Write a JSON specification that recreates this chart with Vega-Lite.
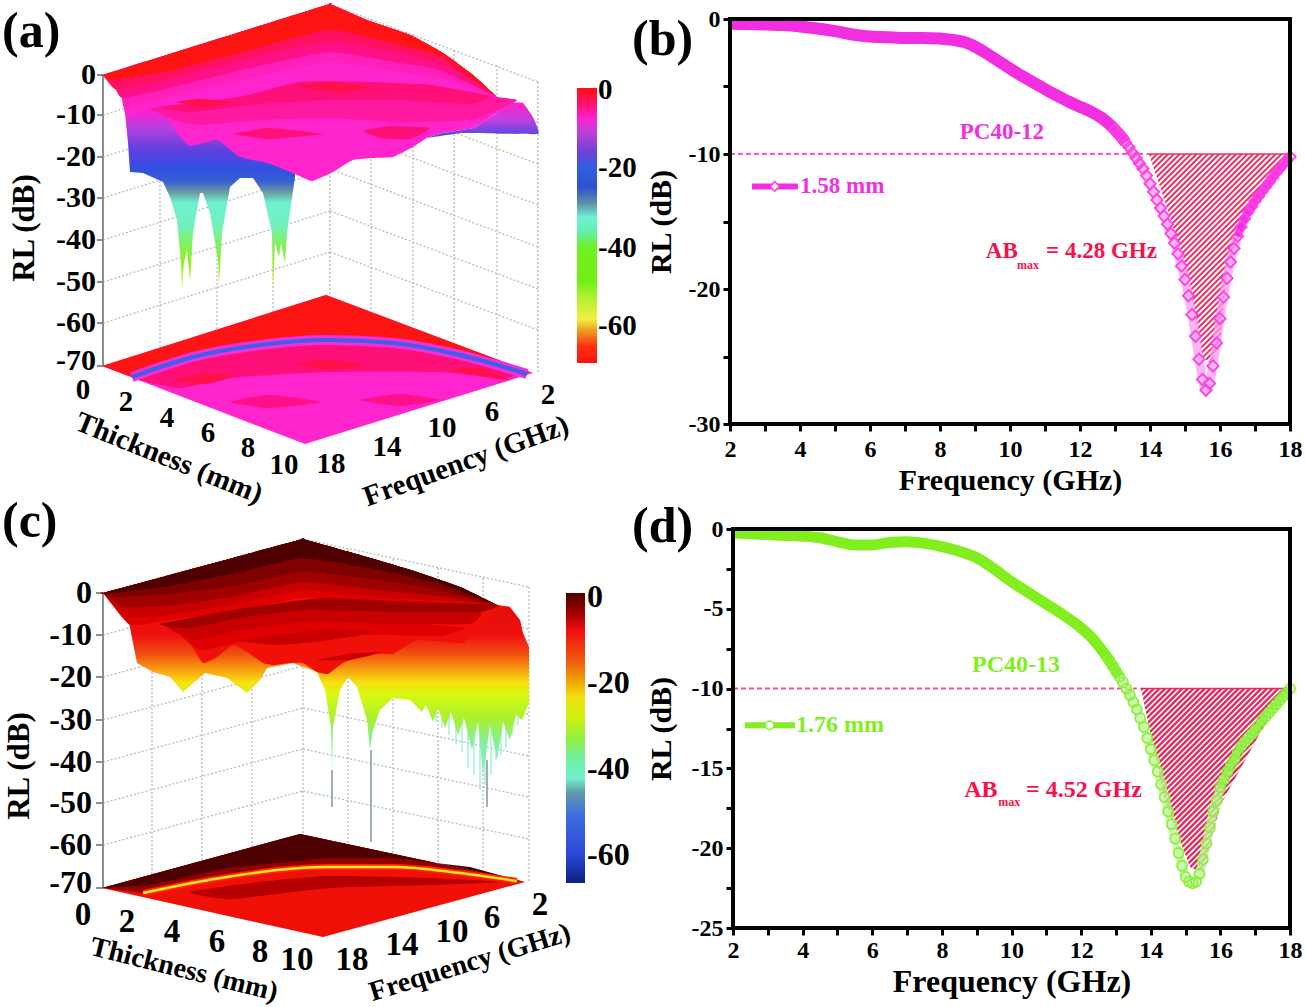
{"$schema":"https://vega.github.io/schema/vega-lite/v6.json","width":1305,"height":1007,"autosize":"none","padding":0,"background":"white",
"config":{"view":{"stroke":null},"text":{"font":"Liberation Serif","fontWeight":"bold"},"axis":{"grid":false,"domain":false,"labelFont":"Liberation Serif","labelFontWeight":"bold","labelFontSize":24,"labelColor":"black","labelOverlap":false,"labelFlush":false,"tickColor":"black","tickWidth":3,"tickSize":7,"labelPadding":3,"titleFont":"Liberation Serif","titleFontWeight":"bold","titleFontSize":30,"titleColor":"black"}},
"resolve":{"scale":{"x":"independent","y":"independent","fill":"independent"},"axis":{"x":"independent","y":"independent"}},
"datasets":{
"grid":[
{"u":103,"v":75,"u2":330,"v2":4},{"u":103,"v":115,"u2":330,"v2":44},{"u":103,"v":157,"u2":330,"v2":86},{"u":103,"v":198,"u2":330,"v2":127},{"u":103,"v":240,"u2":330,"v2":169},{"u":103,"v":282,"u2":330,"v2":211},{"u":103,"v":323,"u2":330,"v2":252},
{"u":330,"v":4,"u2":538,"v2":82},{"u":330,"v":44,"u2":538,"v2":122},{"u":330,"v":86,"u2":538,"v2":164},{"u":330,"v":127,"u2":538,"v2":205},{"u":330,"v":169,"u2":538,"v2":247},{"u":330,"v":211,"u2":538,"v2":289},{"u":330,"v":252,"u2":538,"v2":330},
{"u":160,"v":57,"u2":160,"v2":348},{"u":217,"v":39,"u2":217,"v2":330},{"u":273,"v":22,"u2":273,"v2":313},{"u":330,"v":4,"u2":330,"v2":295},{"u":371,"v":19,"u2":371,"v2":310},{"u":413,"v":34,"u2":413,"v2":325},{"u":454,"v":50,"u2":454,"v2":341},{"u":497,"v":65,"u2":497,"v2":356},{"u":538,"v":82,"u2":538,"v2":373},
{"u":103,"v":593,"u2":303,"v2":539},{"u":103,"v":635,"u2":303,"v2":581},{"u":103,"v":677,"u2":303,"v2":623},{"u":103,"v":720,"u2":303,"v2":666},{"u":103,"v":762,"u2":303,"v2":708},{"u":103,"v":803,"u2":303,"v2":749},{"u":103,"v":845,"u2":303,"v2":791},
{"u":303,"v":539,"u2":529,"v2":587},{"u":303,"v":581,"u2":529,"v2":629},{"u":303,"v":623,"u2":529,"v2":671},{"u":303,"v":666,"u2":529,"v2":714},{"u":303,"v":708,"u2":529,"v2":756},{"u":303,"v":749,"u2":529,"v2":797},{"u":303,"v":791,"u2":529,"v2":839},
{"u":152,"v":580,"u2":152,"v2":875},{"u":202,"v":566,"u2":202,"v2":861},{"u":252,"v":553,"u2":252,"v2":848},{"u":303,"v":539,"u2":303,"v2":834},{"u":348,"v":549,"u2":348,"v2":844},{"u":393,"v":559,"u2":393,"v2":854},{"u":438,"v":568,"u2":438,"v2":863},{"u":483,"v":578,"u2":483,"v2":873},{"u":529,"v":587,"u2":529,"v2":882}],
"axis3d":[{"u":103,"v":75,"u2":103,"v2":366},{"u":97,"v":75,"u2":103,"v2":75},{"u":97,"v":115,"u2":103,"v2":115},{"u":97,"v":157,"u2":103,"v2":157},{"u":97,"v":198,"u2":103,"v2":198},{"u":97,"v":240,"u2":103,"v2":240},{"u":97,"v":282,"u2":103,"v2":282},{"u":97,"v":323,"u2":103,"v2":323},{"u":97,"v":366,"u2":103,"v2":366},
{"u":103,"v":593,"u2":103,"v2":888},{"u":96,"v":593,"u2":103,"v2":593},{"u":96,"v":635,"u2":103,"v2":635},{"u":96,"v":677,"u2":103,"v2":677},{"u":96,"v":720,"u2":103,"v2":720},{"u":96,"v":762,"u2":103,"v2":762},{"u":96,"v":803,"u2":103,"v2":803},{"u":96,"v":845,"u2":103,"v2":845},{"u":96,"v":888,"u2":103,"v2":888}],
"a_curtain":[{"u":113,"v":83},{"u":122,"v":97},{"u":125,"v":113},{"u":128,"v":143},{"u":130,"v":172},{"u":143,"v":173},{"u":163,"v":182},{"u":170,"v":197},{"u":177,"v":220},{"u":181,"v":263},{"u":182,"v":290},{"u":184,"v":262},{"u":187,"v":250},{"u":190,"v":282},{"u":193,"v":233},{"u":200,"v":193},{"u":203,"v":193},{"u":210,"v":213},{"u":218,"v":260},{"u":219,"v":287},{"u":222,"v":233},{"u":230,"v":187},{"u":240,"v":178},{"u":253,"v":178},{"u":263,"v":193},{"u":272,"v":233},{"u":273,"v":293},{"u":275,"v":243},{"u":279,"v":257},{"u":281,"v":243},{"u":285,"v":263},{"u":287,"v":233},{"u":295,"v":177},{"u":295,"v":150}],
"a_right":[{"u":427,"v":138},{"u":463,"v":133},{"u":538,"v":134},{"u":533,"v":117},{"u":523,"v":103},{"u":510,"v":103},{"u":497,"v":113},{"u":473,"v":128},{"u":443,"v":133}],
"a_surface":[
{"poly":"s","rl":-9,"u":103,"v":75},{"poly":"s","rl":-9,"u":103,"v":75},{"poly":"s","rl":-9,"u":170,"v":54},{"poly":"s","rl":-9,"u":250,"v":29},{"poly":"s","rl":-9,"u":330,"v":4},{"poly":"s","rl":-9,"u":330,"v":4},{"poly":"s","rl":-9,"u":367,"v":20},{"poly":"s","rl":-9,"u":410,"v":35},{"poly":"s","rl":-9,"u":443,"v":53},{"poly":"s","rl":-9,"u":473,"v":75},{"poly":"s","rl":-9,"u":497,"v":97},{"poly":"s","rl":-9,"u":517,"v":100},{"poly":"s","rl":-9,"u":497,"v":113},{"poly":"s","rl":-9,"u":473,"v":128},{"poly":"s","rl":-9,"u":443,"v":133},{"poly":"s","rl":-9,"u":427,"v":138},{"poly":"s","rl":-9,"u":413,"v":147},{"poly":"s","rl":-9,"u":393,"v":157},{"poly":"s","rl":-9,"u":373,"v":158},{"poly":"s","rl":-9,"u":353,"v":160},{"poly":"s","rl":-9,"u":333,"v":172},{"poly":"s","rl":-9,"u":312,"v":181},{"poly":"s","rl":-9,"u":293,"v":173},{"poly":"s","rl":-9,"u":267,"v":163},{"poly":"s","rl":-9,"u":240,"v":157},{"poly":"s","rl":-9,"u":217,"v":140},{"poly":"s","rl":-9,"u":190,"v":146},{"poly":"s","rl":-9,"u":177,"v":133},{"poly":"s","rl":-9,"u":167,"v":117},{"poly":"s","rl":-9,"u":150,"v":108},{"poly":"s","rl":-9,"u":143,"v":110},{"poly":"s","rl":-9,"u":127,"v":117},{"poly":"s","rl":-9,"u":125,"v":113},{"poly":"s","rl":-9,"u":122,"v":97},{"poly":"s","rl":-9,"u":113,"v":83},
{"poly":"c1","rl":-7,"u":103,"v":75},{"poly":"c1","rl":-7,"u":103,"v":75},{"poly":"c1","rl":-7,"u":170,"v":54},{"poly":"c1","rl":-7,"u":250,"v":29},{"poly":"c1","rl":-7,"u":330,"v":4},{"poly":"c1","rl":-7,"u":330,"v":4},{"poly":"c1","rl":-7,"u":367,"v":20},{"poly":"c1","rl":-7,"u":410,"v":35},{"poly":"c1","rl":-7,"u":443,"v":53},{"poly":"c1","rl":-7,"u":473,"v":75},{"poly":"c1","rl":-7,"u":497,"v":97},{"poly":"c1","rl":-7,"u":497,"v":97},{"poly":"c1","rl":-7,"u":440,"v":78},{"poly":"c1","rl":-7,"u":400,"v":72},{"poly":"c1","rl":-7,"u":330,"v":62},{"poly":"c1","rl":-7,"u":250,"v":78},{"poly":"c1","rl":-7,"u":170,"v":97},{"poly":"c1","rl":-7,"u":125,"v":108},{"poly":"c1","rl":-7,"u":122,"v":97},{"poly":"c1","rl":-7,"u":113,"v":83},
{"poly":"c2","rl":-5,"u":103,"v":75},{"poly":"c2","rl":-5,"u":103,"v":75},{"poly":"c2","rl":-5,"u":170,"v":54},{"poly":"c2","rl":-5,"u":250,"v":29},{"poly":"c2","rl":-5,"u":330,"v":4},{"poly":"c2","rl":-5,"u":330,"v":4},{"poly":"c2","rl":-5,"u":367,"v":20},{"poly":"c2","rl":-5,"u":410,"v":35},{"poly":"c2","rl":-5,"u":443,"v":53},{"poly":"c2","rl":-5,"u":473,"v":75},{"poly":"c2","rl":-5,"u":497,"v":97},{"poly":"c2","rl":-5,"u":497,"v":97},{"poly":"c2","rl":-5,"u":440,"v":70},{"poly":"c2","rl":-5,"u":400,"v":63},{"poly":"c2","rl":-5,"u":330,"v":52},{"poly":"c2","rl":-5,"u":250,"v":68},{"poly":"c2","rl":-5,"u":170,"v":88},{"poly":"c2","rl":-5,"u":122,"v":98},{"poly":"c2","rl":-5,"u":113,"v":83},
{"poly":"c3","rl":-3.5,"u":103,"v":75},{"poly":"c3","rl":-3.5,"u":103,"v":75},{"poly":"c3","rl":-3.5,"u":170,"v":54},{"poly":"c3","rl":-3.5,"u":250,"v":29},{"poly":"c3","rl":-3.5,"u":330,"v":4},{"poly":"c3","rl":-3.5,"u":330,"v":4},{"poly":"c3","rl":-3.5,"u":367,"v":20},{"poly":"c3","rl":-3.5,"u":410,"v":35},{"poly":"c3","rl":-3.5,"u":443,"v":53},{"poly":"c3","rl":-3.5,"u":473,"v":75},{"poly":"c3","rl":-3.5,"u":497,"v":97},{"poly":"c3","rl":-3.5,"u":497,"v":97},{"poly":"c3","rl":-3.5,"u":440,"v":63},{"poly":"c3","rl":-3.5,"u":400,"v":53},{"poly":"c3","rl":-3.5,"u":330,"v":42},{"poly":"c3","rl":-3.5,"u":250,"v":58},{"poly":"c3","rl":-3.5,"u":170,"v":79},{"poly":"c3","rl":-3.5,"u":117,"v":90},
{"poly":"c4","rl":-0.5,"u":103,"v":75},{"poly":"c4","rl":-0.5,"u":103,"v":75},{"poly":"c4","rl":-0.5,"u":170,"v":54},{"poly":"c4","rl":-0.5,"u":250,"v":29},{"poly":"c4","rl":-0.5,"u":330,"v":4},{"poly":"c4","rl":-0.5,"u":330,"v":4},{"poly":"c4","rl":-0.5,"u":367,"v":20},{"poly":"c4","rl":-0.5,"u":410,"v":35},{"poly":"c4","rl":-0.5,"u":443,"v":53},{"poly":"c4","rl":-0.5,"u":473,"v":75},{"poly":"c4","rl":-0.5,"u":497,"v":97},{"poly":"c4","rl":-0.5,"u":497,"v":97},{"poly":"c4","rl":-0.5,"u":443,"v":57},{"poly":"c4","rl":-0.5,"u":400,"v":45},{"poly":"c4","rl":-0.5,"u":330,"v":30},{"poly":"c4","rl":-0.5,"u":250,"v":50},{"poly":"c4","rl":-0.5,"u":170,"v":71},{"poly":"c4","rl":-0.5,"u":110,"v":80},
{"poly":"r1","rl":-6,"u":150,"v":108},{"poly":"r1","rl":-6,"u":200,"v":103},{"poly":"r1","rl":-6,"u":240,"v":97},{"poly":"r1","rl":-6,"u":300,"v":82},{"poly":"r1","rl":-6,"u":370,"v":82},{"poly":"r1","rl":-6,"u":430,"v":85},{"poly":"r1","rl":-6,"u":497,"v":97},{"poly":"r1","rl":-6,"u":517,"v":100},{"poly":"r1","rl":-6,"u":497,"v":110},{"poly":"r1","rl":-6,"u":470,"v":120},{"poly":"r1","rl":-6,"u":400,"v":122},{"poly":"r1","rl":-6,"u":330,"v":118},{"poly":"r1","rl":-6,"u":260,"v":120},{"poly":"r1","rl":-6,"u":200,"v":125},{"poly":"r1","rl":-6,"u":175,"v":120},
{"poly":"r2","rl":-4.5,"u":160,"v":107},{"poly":"r2","rl":-4.5,"u":240,"v":97},{"poly":"r2","rl":-4.5,"u":300,"v":82},{"poly":"r2","rl":-4.5,"u":370,"v":82},{"poly":"r2","rl":-4.5,"u":430,"v":85},{"poly":"r2","rl":-4.5,"u":490,"v":96},{"poly":"r2","rl":-4.5,"u":470,"v":104},{"poly":"r2","rl":-4.5,"u":400,"v":100},{"poly":"r2","rl":-4.5,"u":330,"v":100},{"poly":"r2","rl":-4.5,"u":260,"v":104},{"poly":"r2","rl":-4.5,"u":190,"v":112},
{"poly":"e1","rl":-2.5,"u":177,"v":102},{"poly":"e1","rl":-2.5,"u":200,"v":99},{"poly":"e1","rl":-2.5,"u":233,"v":102},{"poly":"e1","rl":-2.5,"u":205,"v":107},
{"poly":"e2","rl":-2.5,"u":298,"v":86},{"poly":"e2","rl":-2.5,"u":330,"v":82},{"poly":"e2","rl":-2.5,"u":370,"v":87},{"poly":"e2","rl":-2.5,"u":340,"v":93},
{"poly":"e3","rl":-4.5,"u":233,"v":134},{"poly":"e3","rl":-4.5,"u":270,"v":128},{"poly":"e3","rl":-4.5,"u":323,"v":134},{"poly":"e3","rl":-4.5,"u":270,"v":139},
{"poly":"e4","rl":-4.5,"u":363,"v":131},{"poly":"e4","rl":-4.5,"u":390,"v":126},{"poly":"e4","rl":-4.5,"u":430,"v":128},{"poly":"e4","rl":-4.5,"u":410,"v":139},{"poly":"e4","rl":-4.5,"u":380,"v":138}],
"a_floor":[
{"poly":"f0","rl":-9,"u":102,"v":366},{"poly":"f0","rl":-9,"u":326,"v":295},{"poly":"f0","rl":-9,"u":533,"v":373},{"poly":"f0","rl":-9,"u":305,"v":444},
{"poly":"f1","rl":-0.5,"u":102,"v":366},{"poly":"f1","rl":-0.5,"u":326,"v":295},{"poly":"f1","rl":-0.5,"u":533,"v":373},{"poly":"f1","rl":-0.5,"u":460,"v":355},{"poly":"f1","rl":-0.5,"u":393,"v":343},{"poly":"f1","rl":-0.5,"u":327,"v":340},{"poly":"f1","rl":-0.5,"u":260,"v":345},{"poly":"f1","rl":-0.5,"u":193,"v":357},{"poly":"f1","rl":-0.5,"u":132,"v":377},
{"poly":"f2","rl":-4.5,"u":132,"v":377},{"poly":"f2","rl":-4.5,"u":193,"v":357},{"poly":"f2","rl":-4.5,"u":260,"v":345},{"poly":"f2","rl":-4.5,"u":327,"v":340},{"poly":"f2","rl":-4.5,"u":393,"v":343},{"poly":"f2","rl":-4.5,"u":460,"v":355},{"poly":"f2","rl":-4.5,"u":527,"v":372},{"poly":"f2","rl":-4.5,"u":500,"v":378},{"poly":"f2","rl":-4.5,"u":440,"v":372},{"poly":"f2","rl":-4.5,"u":327,"v":372},{"poly":"f2","rl":-4.5,"u":230,"v":378},{"poly":"f2","rl":-4.5,"u":180,"v":388},
{"poly":"f3","rl":-2.5,"u":175,"v":380},{"poly":"f3","rl":-2.5,"u":205,"v":373},{"poly":"f3","rl":-2.5,"u":235,"v":376},{"poly":"f3","rl":-2.5,"u":205,"v":384},
{"poly":"f4","rl":-2.5,"u":295,"v":364},{"poly":"f4","rl":-2.5,"u":330,"v":360},{"poly":"f4","rl":-2.5,"u":365,"v":365},{"poly":"f4","rl":-2.5,"u":330,"v":370},
{"poly":"f5","rl":-2.5,"u":450,"v":370},{"poly":"f5","rl":-2.5,"u":480,"v":368},{"poly":"f5","rl":-2.5,"u":510,"v":380},{"poly":"f5","rl":-2.5,"u":480,"v":376},
{"poly":"f6","rl":-5,"u":230,"v":402},{"poly":"f6","rl":-5,"u":270,"v":395},{"poly":"f6","rl":-5,"u":320,"v":402},{"poly":"f6","rl":-5,"u":270,"v":408},
{"poly":"f7","rl":-5,"u":360,"v":400},{"poly":"f7","rl":-5,"u":400,"v":394},{"poly":"f7","rl":-5,"u":440,"v":400},{"poly":"f7","rl":-5,"u":400,"v":406}],
"a_band":[{"u":132,"v":377},{"u":193,"v":357},{"u":260,"v":345},{"u":327,"v":340},{"u":393,"v":343},{"u":460,"v":355},{"u":527,"v":374}],
"c_curtain":[{"u":113,"v":600},{"u":120,"v":603},{"u":128,"v":617},{"u":133,"v":643},{"u":137,"v":663},{"u":153,"v":672},{"u":170,"v":677},{"u":183,"v":692},{"u":197,"v":680},{"u":205,"v":673},{"u":227,"v":678},{"u":247,"v":693},{"u":260,"v":680},{"u":267,"v":668},{"u":293,"v":663},{"u":317,"v":672},{"u":325,"v":690},{"u":331,"v":727},{"u":332,"v":770},{"u":333,"v":727},{"u":340,"v":690},{"u":348,"v":677},{"u":357,"v":687},{"u":367,"v":720},{"u":370,"v":750},{"u":373,"v":730},{"u":380,"v":710},{"u":393,"v":698},{"u":410,"v":700},{"u":422,"v":712},{"u":426,"v":705},{"u":433,"v":722},{"u":438,"v":708},{"u":445,"v":728},{"u":451,"v":712},{"u":458,"v":735},{"u":464,"v":718},{"u":472,"v":750},{"u":478,"v":722},{"u":483,"v":775},{"u":490,"v":725},{"u":497,"v":760},{"u":503,"v":722},{"u":510,"v":740},{"u":516,"v":715},{"u":522,"v":720},{"u":529,"v":703},{"u":529,"v":647},{"u":523,"v":633},{"u":520,"v":620},{"u":510,"v":607},{"u":497,"v":605},{"u":300,"v":601}],
"c_surface":[
{"poly":"s","rl":-10,"u":103,"v":593},{"poly":"s","rl":-10,"u":103,"v":593},{"poly":"s","rl":-10,"u":170,"v":575},{"poly":"s","rl":-10,"u":240,"v":556},{"poly":"s","rl":-10,"u":303,"v":539},{"poly":"s","rl":-10,"u":303,"v":539},{"poly":"s","rl":-10,"u":367,"v":557},{"poly":"s","rl":-10,"u":417,"v":572},{"poly":"s","rl":-10,"u":460,"v":587},{"poly":"s","rl":-10,"u":497,"v":605},{"poly":"s","rl":-10,"u":510,"v":607},{"poly":"s","rl":-10,"u":497,"v":610},{"poly":"s","rl":-10,"u":470,"v":633},{"poly":"s","rl":-10,"u":463,"v":643},{"poly":"s","rl":-10,"u":417,"v":640},{"poly":"s","rl":-10,"u":393,"v":654},{"poly":"s","rl":-10,"u":370,"v":653},{"poly":"s","rl":-10,"u":343,"v":663},{"poly":"s","rl":-10,"u":328,"v":674},{"poly":"s","rl":-10,"u":317,"v":672},{"poly":"s","rl":-10,"u":303,"v":663},{"poly":"s","rl":-10,"u":290,"v":663},{"poly":"s","rl":-10,"u":273,"v":665},{"poly":"s","rl":-10,"u":263,"v":663},{"poly":"s","rl":-10,"u":247,"v":652},{"poly":"s","rl":-10,"u":233,"v":645},{"poly":"s","rl":-10,"u":217,"v":657},{"poly":"s","rl":-10,"u":203,"v":663},{"poly":"s","rl":-10,"u":190,"v":643},{"poly":"s","rl":-10,"u":180,"v":627},{"poly":"s","rl":-10,"u":163,"v":622},{"poly":"s","rl":-10,"u":150,"v":628},{"poly":"s","rl":-10,"u":135,"v":628},{"poly":"s","rl":-10,"u":128,"v":617},{"poly":"s","rl":-10,"u":120,"v":603},{"poly":"s","rl":-10,"u":110,"v":596},
{"poly":"l5","rl":-8,"u":103,"v":593},{"poly":"l5","rl":-8,"u":103,"v":593},{"poly":"l5","rl":-8,"u":170,"v":575},{"poly":"l5","rl":-8,"u":240,"v":556},{"poly":"l5","rl":-8,"u":303,"v":539},{"poly":"l5","rl":-8,"u":303,"v":539},{"poly":"l5","rl":-8,"u":367,"v":557},{"poly":"l5","rl":-8,"u":417,"v":572},{"poly":"l5","rl":-8,"u":460,"v":587},{"poly":"l5","rl":-8,"u":497,"v":605},{"poly":"l5","rl":-8,"u":497,"v":605},{"poly":"l5","rl":-8,"u":440,"v":605},{"poly":"l5","rl":-8,"u":380,"v":602},{"poly":"l5","rl":-8,"u":303,"v":598},{"poly":"l5","rl":-8,"u":240,"v":610},{"poly":"l5","rl":-8,"u":170,"v":620},{"poly":"l5","rl":-8,"u":130,"v":625},
{"poly":"l4","rl":-6,"u":103,"v":593},{"poly":"l4","rl":-6,"u":103,"v":593},{"poly":"l4","rl":-6,"u":170,"v":575},{"poly":"l4","rl":-6,"u":240,"v":556},{"poly":"l4","rl":-6,"u":303,"v":539},{"poly":"l4","rl":-6,"u":303,"v":539},{"poly":"l4","rl":-6,"u":367,"v":557},{"poly":"l4","rl":-6,"u":417,"v":572},{"poly":"l4","rl":-6,"u":460,"v":587},{"poly":"l4","rl":-6,"u":497,"v":605},{"poly":"l4","rl":-6,"u":497,"v":605},{"poly":"l4","rl":-6,"u":440,"v":600},{"poly":"l4","rl":-6,"u":380,"v":597},{"poly":"l4","rl":-6,"u":303,"v":590},{"poly":"l4","rl":-6,"u":240,"v":603},{"poly":"l4","rl":-6,"u":170,"v":615},{"poly":"l4","rl":-6,"u":128,"v":617},
{"poly":"l3","rl":-4,"u":103,"v":593},{"poly":"l3","rl":-4,"u":103,"v":593},{"poly":"l3","rl":-4,"u":170,"v":575},{"poly":"l3","rl":-4,"u":240,"v":556},{"poly":"l3","rl":-4,"u":303,"v":539},{"poly":"l3","rl":-4,"u":303,"v":539},{"poly":"l3","rl":-4,"u":367,"v":557},{"poly":"l3","rl":-4,"u":417,"v":572},{"poly":"l3","rl":-4,"u":460,"v":587},{"poly":"l3","rl":-4,"u":497,"v":605},{"poly":"l3","rl":-4,"u":497,"v":605},{"poly":"l3","rl":-4,"u":440,"v":596},{"poly":"l3","rl":-4,"u":380,"v":590},{"poly":"l3","rl":-4,"u":303,"v":582},{"poly":"l3","rl":-4,"u":240,"v":595},{"poly":"l3","rl":-4,"u":170,"v":606},{"poly":"l3","rl":-4,"u":123,"v":607},
{"poly":"l2","rl":-2,"u":103,"v":593},{"poly":"l2","rl":-2,"u":103,"v":593},{"poly":"l2","rl":-2,"u":170,"v":575},{"poly":"l2","rl":-2,"u":240,"v":556},{"poly":"l2","rl":-2,"u":303,"v":539},{"poly":"l2","rl":-2,"u":303,"v":539},{"poly":"l2","rl":-2,"u":367,"v":557},{"poly":"l2","rl":-2,"u":417,"v":572},{"poly":"l2","rl":-2,"u":460,"v":587},{"poly":"l2","rl":-2,"u":497,"v":605},{"poly":"l2","rl":-2,"u":497,"v":605},{"poly":"l2","rl":-2,"u":440,"v":590},{"poly":"l2","rl":-2,"u":380,"v":580},{"poly":"l2","rl":-2,"u":303,"v":572},{"poly":"l2","rl":-2,"u":240,"v":585},{"poly":"l2","rl":-2,"u":170,"v":594},{"poly":"l2","rl":-2,"u":113,"v":597},
{"poly":"l1","rl":0,"u":103,"v":593},{"poly":"l1","rl":0,"u":103,"v":593},{"poly":"l1","rl":0,"u":170,"v":575},{"poly":"l1","rl":0,"u":240,"v":556},{"poly":"l1","rl":0,"u":303,"v":539},{"poly":"l1","rl":0,"u":303,"v":539},{"poly":"l1","rl":0,"u":367,"v":557},{"poly":"l1","rl":0,"u":417,"v":572},{"poly":"l1","rl":0,"u":460,"v":587},{"poly":"l1","rl":0,"u":497,"v":605},{"poly":"l1","rl":0,"u":497,"v":605},{"poly":"l1","rl":0,"u":440,"v":584},{"poly":"l1","rl":0,"u":380,"v":570},{"poly":"l1","rl":0,"u":303,"v":558},{"poly":"l1","rl":0,"u":240,"v":572},{"poly":"l1","rl":0,"u":170,"v":586},{"poly":"l1","rl":0,"u":105,"v":594},
{"poly":"r3","rl":-8,"u":180,"v":630},{"poly":"r3","rl":-8,"u":303,"v":620},{"poly":"r3","rl":-8,"u":400,"v":622},{"poly":"r3","rl":-8,"u":465,"v":628},{"poly":"r3","rl":-8,"u":440,"v":636},{"poly":"r3","rl":-8,"u":380,"v":635},{"poly":"r3","rl":-8,"u":303,"v":635},{"poly":"r3","rl":-8,"u":240,"v":642},{"poly":"r3","rl":-8,"u":200,"v":650},
{"poly":"r2","rl":-6,"u":165,"v":625},{"poly":"r2","rl":-6,"u":233,"v":612},{"poly":"r2","rl":-6,"u":303,"v":605},{"poly":"r2","rl":-6,"u":400,"v":610},{"poly":"r2","rl":-6,"u":480,"v":612},{"poly":"r2","rl":-6,"u":470,"v":624},{"poly":"r2","rl":-6,"u":400,"v":624},{"poly":"r2","rl":-6,"u":303,"v":622},{"poly":"r2","rl":-6,"u":240,"v":630},{"poly":"r2","rl":-6,"u":195,"v":640},
{"poly":"r1","rl":-4,"u":160,"v":624},{"poly":"r1","rl":-4,"u":233,"v":610},{"poly":"r1","rl":-4,"u":303,"v":600},{"poly":"r1","rl":-4,"u":333,"v":598},{"poly":"r1","rl":-4,"u":410,"v":602},{"poly":"r1","rl":-4,"u":497,"v":605},{"poly":"r1","rl":-4,"u":480,"v":612},{"poly":"r1","rl":-4,"u":400,"v":612},{"poly":"r1","rl":-4,"u":303,"v":610},{"poly":"r1","rl":-4,"u":240,"v":618},{"poly":"r1","rl":-4,"u":190,"v":628},
{"poly":"e1","rl":-6,"u":240,"v":641},{"poly":"e1","rl":-6,"u":280,"v":635},{"poly":"e1","rl":-6,"u":320,"v":630},{"poly":"e1","rl":-6,"u":380,"v":631},{"poly":"e1","rl":-6,"u":330,"v":640},{"poly":"e1","rl":-6,"u":280,"v":645},
{"poly":"e2","rl":-6,"u":317,"v":660},{"poly":"e2","rl":-6,"u":350,"v":654},{"poly":"e2","rl":-6,"u":383,"v":652},{"poly":"e2","rl":-6,"u":350,"v":660}],
"c_floor":[
{"poly":"f0","rl":-10,"u":102,"v":888},{"poly":"f0","rl":-10,"u":300,"v":834},{"poly":"f0","rl":-10,"u":525,"v":882},{"poly":"f0","rl":-10,"u":323,"v":937},
{"poly":"f1","rl":-3,"u":102,"v":888},{"poly":"f1","rl":-3,"u":300,"v":834},{"poly":"f1","rl":-3,"u":525,"v":882},{"poly":"f1","rl":-3,"u":517,"v":881},{"poly":"f1","rl":-3,"u":460,"v":873},{"poly":"f1","rl":-3,"u":393,"v":867},{"poly":"f1","rl":-3,"u":327,"v":867},{"poly":"f1","rl":-3,"u":227,"v":877},{"poly":"f1","rl":-3,"u":143,"v":893},
{"poly":"f2","rl":0,"u":102,"v":888},{"poly":"f2","rl":0,"u":300,"v":834},{"poly":"f2","rl":0,"u":525,"v":882},{"poly":"f2","rl":0,"u":470,"v":867},{"poly":"f2","rl":0,"u":393,"v":858},{"poly":"f2","rl":0,"u":327,"v":858},{"poly":"f2","rl":0,"u":227,"v":868},{"poly":"f2","rl":0,"u":150,"v":885},
{"poly":"f3","rl":-5,"u":190,"v":892},{"poly":"f3","rl":-5,"u":260,"v":882},{"poly":"f3","rl":-5,"u":330,"v":876},{"poly":"f3","rl":-5,"u":430,"v":878},{"poly":"f3","rl":-5,"u":500,"v":882},{"poly":"f3","rl":-5,"u":430,"v":885},{"poly":"f3","rl":-5,"u":330,"v":888},{"poly":"f3","rl":-5,"u":230,"v":899}],
"c_band":[{"u":143,"v":893},{"u":227,"v":877},{"u":327,"v":867},{"u":393,"v":867},{"u":460,"v":873},{"u":517,"v":881}],
"c_hair":[{"u":332,"v":770,"v2":807},{"u":371,"v":750,"v2":842},{"u":487,"v":760,"v2":807}],
"c_hair2":[{"u":436,"v":705,"v2":722},{"u":442,"v":710,"v2":728},{"u":449,"v":715,"v2":735},{"u":456,"v":720,"v2":745},{"u":462,"v":722,"v2":752},{"u":468,"v":725,"v2":768},{"u":474,"v":725,"v2":775},{"u":480,"v":730,"v2":790},{"u":485,"v":730,"v2":785},{"u":491,"v":725,"v2":775},{"u":496,"v":725,"v2":760},{"u":501,"v":722,"v2":755},{"u":506,"v":722,"v2":748},{"u":512,"v":715,"v2":735},{"u":518,"v":710,"v2":725}],
"maskB":[{"poly":"m1","f":10.9,"rl":-4.4},{"poly":"m1","f":18.6,"rl":-4.4},{"poly":"m1","f":18.6,"rl":-10},{"poly":"m1","f":13.97,"rl":-10},{"poly":"m1","f":14.54,"rl":-14.4},{"poly":"m1","f":15.14,"rl":-20},{"poly":"m1","f":15.5,"rl":-25},{"poly":"m1","f":15.8,"rl":-25.7},{"poly":"m1","f":15.8,"rl":-30.8},{"poly":"m1","f":10.9,"rl":-30.8},
{"poly":"m2","f":18.6,"rl":-10},{"poly":"m2","f":18,"rl":-10},{"poly":"m2","f":17.8,"rl":-10.4},{"poly":"m2","f":17.15,"rl":-13.4},{"poly":"m2","f":16.5,"rl":-16.4},{"poly":"m2","f":16.2,"rl":-18.4},{"poly":"m2","f":16,"rl":-24.3},{"poly":"m2","f":15.7,"rl":-25.6},{"poly":"m2","f":15.7,"rl":-30.8},{"poly":"m2","f":18.6,"rl":-30.8}],
"maskD":[{"poly":"m1","f":10.9,"rl":-5},{"poly":"m1","f":18.6,"rl":-5},{"poly":"m1","f":18.6,"rl":-10},{"poly":"m1","f":13.72,"rl":-10},{"poly":"m1","f":14.38,"rl":-16.85},{"poly":"m1","f":15.13,"rl":-21.2},{"poly":"m1","f":15.5,"rl":-21.5},{"poly":"m1","f":15.65,"rl":-26.8},{"poly":"m1","f":10.9,"rl":-26.8},
{"poly":"m2","f":18.6,"rl":-10},{"poly":"m2","f":18,"rl":-10},{"poly":"m2","f":17.83,"rl":-10.2},{"poly":"m2","f":17.46,"rl":-11.5},{"poly":"m2","f":16,"rl":-17.3},{"poly":"m2","f":15.5,"rl":-21.5},{"poly":"m2","f":15.55,"rl":-26.8},{"poly":"m2","f":18.6,"rl":-26.8}],
"curveB":[{"f":2,"rl":-0.35},{"f":2.5,"rl":-0.37},{"f":3,"rl":-0.4},{"f":3.5,"rl":-0.45},{"f":4,"rl":-0.55},{"f":4.5,"rl":-0.7},{"f":5,"rl":-0.9},{"f":5.5,"rl":-1.15},{"f":6,"rl":-1.3},{"f":6.5,"rl":-1.35},{"f":7,"rl":-1.4},{"f":7.5,"rl":-1.4},{"f":8,"rl":-1.45},{"f":8.5,"rl":-1.6},{"f":8.8,"rl":-1.8},{"f":9,"rl":-2.05},{"f":9.3,"rl":-2.5},{"f":9.6,"rl":-3},{"f":9.9,"rl":-3.5},{"f":10.2,"rl":-4},{"f":10.5,"rl":-4.45},{"f":10.8,"rl":-4.9},{"f":11.1,"rl":-5.35},{"f":11.4,"rl":-5.75},{"f":11.7,"rl":-6.15},{"f":12,"rl":-6.5},{"f":12.3,"rl":-6.85},{"f":12.6,"rl":-7.3},{"f":12.8,"rl":-7.7},{"f":13,"rl":-8.2},{"f":13.1,"rl":-8.5},{"f":13.2,"rl":-8.8},{"f":13.3,"rl":-9.15},{"f":13.4,"rl":-9.5},{"f":13.5,"rl":-9.9},{"f":13.6,"rl":-10.3},{"f":13.7,"rl":-10.7},{"f":13.8,"rl":-11.1},{"f":13.9,"rl":-11.6},{"f":14,"rl":-12.2},{"f":14.1,"rl":-12.8},{"f":14.2,"rl":-13.4},{"f":14.3,"rl":-14},{"f":14.4,"rl":-14.6},{"f":14.5,"rl":-15.2},{"f":14.6,"rl":-15.9},{"f":14.7,"rl":-16.6},{"f":14.8,"rl":-17.4},{"f":14.9,"rl":-18.3},{"f":15,"rl":-19.3},{"f":15.1,"rl":-20.5},{"f":15.2,"rl":-21.9},{"f":15.3,"rl":-23.5},{"f":15.4,"rl":-25.2},{"f":15.5,"rl":-26.7},{"f":15.6,"rl":-27.5},{"f":15.7,"rl":-27},{"f":15.8,"rl":-25.7},{"f":15.9,"rl":-24},{"f":16,"rl":-22.2},{"f":16.1,"rl":-20.6},{"f":16.2,"rl":-19.2},{"f":16.3,"rl":-18},{"f":16.4,"rl":-17},{"f":16.5,"rl":-16.1},{"f":16.6,"rl":-15.4},{"f":16.7,"rl":-14.8},{"f":16.8,"rl":-14.3},{"f":16.9,"rl":-13.9},{"f":17,"rl":-13.5},{"f":17.1,"rl":-13.15},{"f":17.2,"rl":-12.8},{"f":17.3,"rl":-12.45},{"f":17.4,"rl":-12.1},{"f":17.5,"rl":-11.75},{"f":17.6,"rl":-11.4},{"f":17.7,"rl":-11.1},{"f":17.8,"rl":-10.8},{"f":17.9,"rl":-10.5},{"f":18,"rl":-10.2}],
"curveD":[{"f":2,"rl":-0.25},{"f":2.5,"rl":-0.3},{"f":3,"rl":-0.35},{"f":3.5,"rl":-0.4},{"f":4,"rl":-0.45},{"f":4.5,"rl":-0.55},{"f":5,"rl":-0.8},{"f":5.5,"rl":-1},{"f":6,"rl":-1},{"f":6.5,"rl":-0.85},{"f":7,"rl":-0.8},{"f":7.5,"rl":-0.9},{"f":8,"rl":-1.1},{"f":8.5,"rl":-1.4},{"f":9,"rl":-1.8},{"f":9.5,"rl":-2.5},{"f":10,"rl":-3.3},{"f":10.5,"rl":-4},{"f":11,"rl":-4.7},{"f":11.5,"rl":-5.4},{"f":12,"rl":-6.2},{"f":12.3,"rl":-6.8},{"f":12.6,"rl":-7.6},{"f":12.8,"rl":-8.2},{"f":12.9,"rl":-8.55},{"f":13,"rl":-8.9},{"f":13.1,"rl":-9.25},{"f":13.2,"rl":-9.6},{"f":13.3,"rl":-10},{"f":13.4,"rl":-10.4},{"f":13.5,"rl":-10.85},{"f":13.6,"rl":-11.3},{"f":13.7,"rl":-11.85},{"f":13.8,"rl":-12.4},{"f":13.9,"rl":-13.1},{"f":14,"rl":-13.8},{"f":14.1,"rl":-14.5},{"f":14.2,"rl":-15.2},{"f":14.3,"rl":-16},{"f":14.4,"rl":-16.8},{"f":14.5,"rl":-17.7},{"f":14.6,"rl":-18.5},{"f":14.7,"rl":-19.4},{"f":14.8,"rl":-20.3},{"f":14.9,"rl":-21.1},{"f":15,"rl":-21.8},{"f":15.1,"rl":-22.1},{"f":15.2,"rl":-22.2},{"f":15.3,"rl":-22.1},{"f":15.4,"rl":-21.6},{"f":15.5,"rl":-20.7},{"f":15.6,"rl":-19.7},{"f":15.7,"rl":-18.7},{"f":15.8,"rl":-17.7},{"f":15.9,"rl":-17},{"f":16,"rl":-16.2},{"f":16.1,"rl":-15.7},{"f":16.2,"rl":-15.2},{"f":16.3,"rl":-14.8},{"f":16.4,"rl":-14.4},{"f":16.5,"rl":-14},{"f":16.6,"rl":-13.6},{"f":16.7,"rl":-13.35},{"f":16.8,"rl":-13.1},{"f":16.9,"rl":-12.85},{"f":17,"rl":-12.6},{"f":17.1,"rl":-12.3},{"f":17.2,"rl":-12},{"f":17.3,"rl":-11.75},{"f":17.4,"rl":-11.5},{"f":17.5,"rl":-11.25},{"f":17.6,"rl":-11},{"f":17.7,"rl":-10.75},{"f":17.8,"rl":-10.5},{"f":17.9,"rl":-10.25},{"f":18,"rl":-10}]
},
"layer":[
{"encoding":{"x":{"field":"u","type":"quantitative","scale":{"domain":[0,1305],"range":[0,1305],"nice":false,"zero":false},"axis":null},"y":{"field":"v","type":"quantitative","scale":{"domain":[0,1007],"range":[0,1007],"nice":false,"zero":false},"axis":null}},
"layer":[
{"data":{"name":"grid"},"mark":{"type":"rule","stroke":"#b4bcc0","strokeWidth":1.3,"strokeDash":[2,2]},"encoding":{"x2":{"field":"u2"},"y2":{"field":"v2"}}},
{"data":{"name":"axis3d"},"mark":{"type":"rule","stroke":"#87908f","strokeWidth":2},"encoding":{"x2":{"field":"u2"},"y2":{"field":"v2"}}},
{"data":{"name":"a_curtain"},"transform":[{"window":[{"op":"row_number","as":"i"}]}],"mark":{"type":"line","stroke":"transparent","fill":{"gradient":"linear","x1":0,"y1":0,"x2":0,"y2":1,"stops":[{"offset":0,"color":"#ff1a8c"},{"offset":0.13,"color":"#ff20d0"},{"offset":0.22,"color":"#b040e0"},{"offset":0.32,"color":"#6040e0"},{"offset":0.41,"color":"#3050e0"},{"offset":0.47,"color":"#3860d0"},{"offset":0.52,"color":"#6a9aa0"},{"offset":0.57,"color":"#70f0d0"},{"offset":0.68,"color":"#70f0c0"},{"offset":0.75,"color":"#80f070"},{"offset":0.85,"color":"#90f020"},{"offset":1,"color":"#e0f050"}]}},"encoding":{"order":{"field":"i"}}},
{"data":{"name":"a_right"},"transform":[{"window":[{"op":"row_number","as":"i"}]}],"mark":{"type":"line","stroke":"transparent","interpolate":"cardinal-closed","tension":0.75,"fill":{"gradient":"linear","x1":0,"y1":0,"x2":0,"y2":1,"stops":[{"offset":0,"color":"#ff20c8"},{"offset":0.5,"color":"#c040e0"},{"offset":0.8,"color":"#7048e0"},{"offset":1,"color":"#3850e0"}]}},"encoding":{"order":{"field":"i"}}},
{"data":{"name":"a_surface"},"transform":[{"window":[{"op":"row_number","as":"i"}]}],"mark":{"type":"line","stroke":"transparent","interpolate":"cardinal-closed","tension":0.6},"encoding":{"order":{"field":"i"},"detail":{"field":"poly"},"fill":{"field":"rl","type":"quantitative","legend":null,"scale":{"domain":[-9,-7,-6,-5,-4.5,-3.5,-2.5,-0.5],"range":["#ff24cc","#ff20bc","#ff18a0","#ff1088","#ff1078","#ff1060","#ff1048","#ff1414"]}}}},
{"data":{"name":"a_floor"},"transform":[{"window":[{"op":"row_number","as":"i"}]},{"filter":"datum.poly=='f0'||datum.poly=='f1'"}],"mark":{"type":"line","stroke":"transparent"},"encoding":{"order":{"field":"i"},"detail":{"field":"poly"},"fill":{"field":"rl","type":"quantitative","legend":null,"scale":{"domain":[-9,-7,-6,-5,-4.5,-3.5,-2.5,-0.5],"range":["#ff24cc","#ff20bc","#ff18a0","#ff1088","#ff1078","#ff1060","#ff1048","#ff1414"]}}}},
{"data":{"name":"a_floor"},"transform":[{"window":[{"op":"row_number","as":"i"}]},{"filter":"datum.poly!='f0'&&datum.poly!='f1'"}],"mark":{"type":"line","stroke":"transparent","interpolate":"cardinal-closed","tension":0.5},"encoding":{"order":{"field":"i"},"detail":{"field":"poly"},"fill":{"field":"rl","type":"quantitative","legend":null,"scale":{"domain":[-9,-7,-6,-5,-4.5,-3.5,-2.5,-0.5],"range":["#ff24cc","#ff20bc","#ff18a0","#ff1088","#ff1078","#ff1060","#ff1048","#ff1414"]}}}},
{"data":{"name":"a_band"},"transform":[{"window":[{"op":"row_number","as":"i"}]}],"mark":{"type":"line","stroke":"#f030e0","strokeWidth":10,"interpolate":"monotone"},"encoding":{"order":{"field":"i"}}},
{"data":{"name":"a_band"},"transform":[{"window":[{"op":"row_number","as":"i"}]}],"mark":{"type":"line","stroke":"#4060e0","strokeWidth":4,"interpolate":"monotone"},"encoding":{"order":{"field":"i"}}},
{"data":{"values":[{"u":577,"u2":597,"v":88,"v2":363}]},"mark":{"type":"rect","fill":{"gradient":"linear","x1":0,"y1":0,"x2":0,"y2":1,"stops":[{"offset":0,"color":"#ff1010"},{"offset":0.05,"color":"#ff1060"},{"offset":0.11,"color":"#ff20d0"},{"offset":0.16,"color":"#c040d8"},{"offset":0.23,"color":"#7040d8"},{"offset":0.29,"color":"#3060e0"},{"offset":0.36,"color":"#3050d0"},{"offset":0.42,"color":"#6090a8"},{"offset":0.47,"color":"#70f0d8"},{"offset":0.53,"color":"#60f0a0"},{"offset":0.58,"color":"#70f020"},{"offset":0.7,"color":"#70f010"},{"offset":0.76,"color":"#b0f030"},{"offset":0.84,"color":"#f0f040"},{"offset":0.88,"color":"#f0a020"},{"offset":0.94,"color":"#ff3010"},{"offset":1,"color":"#ff1010"}]}},"encoding":{"x2":{"field":"u2"},"y2":{"field":"v2"}}},
{"data":{"values":[{"t":"0","u":96,"v":75},{"t":"-10","u":96,"v":115},{"t":"-20","u":96,"v":157},{"t":"-30","u":96,"v":198},{"t":"-40","u":96,"v":240},{"t":"-50","u":96,"v":282},{"t":"-60","u":96,"v":323},{"t":"-70","u":96,"v":361}]},"mark":{"type":"text","align":"right","baseline":"middle","fontSize":30,"color":"black"},"encoding":{"text":{"field":"t"}}},
{"data":{"values":[{"t":"0","u":598,"v":90},{"t":"-20","u":598,"v":168},{"t":"-40","u":598,"v":248},{"t":"-60","u":598,"v":326}]},"mark":{"type":"text","align":"left","baseline":"middle","fontSize":29,"color":"black"},"encoding":{"text":{"field":"t"}}},
{"data":{"values":[{"t":"0","u":83,"v":390},{"t":"2","u":126,"v":402},{"t":"4","u":167,"v":418},{"t":"6","u":208,"v":433},{"t":"8","u":248,"v":448},{"t":"10","u":284,"v":465},{"t":"18","u":331,"v":464},{"t":"14","u":387,"v":447},{"t":"10","u":442,"v":428},{"t":"6","u":492,"v":412},{"t":"2","u":548,"v":395}]},"mark":{"type":"text","align":"center","baseline":"middle","fontSize":29,"color":"black"},"encoding":{"text":{"field":"t"}}},
{"data":{"values":[{"t":"RL (dB)","u":25,"v":228}]},"mark":{"type":"text","align":"center","baseline":"middle","fontSize":31,"angle":270,"color":"black"},"encoding":{"text":{"field":"t"}}},
{"data":{"values":[{"t":"Thickness (mm)","u":169,"v":458}]},"mark":{"type":"text","align":"center","baseline":"middle","fontSize":29,"angle":22,"color":"black"},"encoding":{"text":{"field":"t"}}},
{"data":{"values":[{"t":"Frequency (GHz)","u":466,"v":461}]},"mark":{"type":"text","align":"center","baseline":"middle","fontSize":29,"angle":340,"color":"black"},"encoding":{"text":{"field":"t"}}},
{"data":{"values":[{"t":"(a)","u":2,"v":32},{"t":"(c)","u":2,"v":522},{"t":"(b)","u":632,"v":40},{"t":"(d)","u":632,"v":527}]},"mark":{"type":"text","align":"left","baseline":"middle","fontSize":50,"color":"black"},"encoding":{"text":{"field":"t"}}}
]},
{"encoding":{"x":{"field":"u","type":"quantitative","scale":{"domain":[0,1305],"range":[0,1305],"nice":false,"zero":false},"axis":null},"y":{"field":"v","type":"quantitative","scale":{"domain":[0,1007],"range":[0,1007],"nice":false,"zero":false},"axis":null}},
"layer":[
{"data":{"name":"c_hair"},"mark":{"type":"rule","stroke":"#8a9ca6","strokeWidth":1.6},"encoding":{"y2":{"field":"v2"}}},
{"data":{"name":"c_hair2"},"mark":{"type":"rule","stroke":"#8feccd","strokeWidth":1.2},"encoding":{"y2":{"field":"v2"}}},
{"data":{"name":"c_curtain"},"transform":[{"window":[{"op":"row_number","as":"i"}]}],"mark":{"type":"line","stroke":"transparent","fill":{"gradient":"linear","x1":0,"y1":0,"x2":0,"y2":1,"stops":[{"offset":0,"color":"#e00c08"},{"offset":0.2,"color":"#f01010"},{"offset":0.31,"color":"#f05010"},{"offset":0.4,"color":"#f8a010"},{"offset":0.47,"color":"#f8e010"},{"offset":0.54,"color":"#d8f810"},{"offset":0.68,"color":"#a8f030"},{"offset":0.82,"color":"#80f0a0"},{"offset":1,"color":"#80f0c8"}]}},"encoding":{"order":{"field":"i"}}},
{"data":{"name":"c_surface"},"transform":[{"window":[{"op":"row_number","as":"i"}]}],"mark":{"type":"line","stroke":"transparent","interpolate":"cardinal-closed","tension":0.6},"encoding":{"order":{"field":"i"},"detail":{"field":"poly"},"fill":{"field":"rl","type":"quantitative","legend":null,"scale":{"domain":[-10,-8,-6,-4,-2,0],"range":["#f01008","#e00000","#c80000","#a00000","#800000","#4e0000"]}}}},
{"data":{"name":"c_floor"},"transform":[{"window":[{"op":"row_number","as":"i"}]},{"filter":"datum.poly!='f3'"}],"mark":{"type":"line","stroke":"transparent"},"encoding":{"order":{"field":"i"},"detail":{"field":"poly"},"fill":{"field":"rl","type":"quantitative","legend":null,"scale":{"domain":[-10,-8,-6,-4,-2,0],"range":["#e81008","#e00000","#c80000","#a00000","#800000","#4e0000"]}}}},
{"data":{"name":"c_floor"},"transform":[{"window":[{"op":"row_number","as":"i"}]},{"filter":"datum.poly=='f3'"}],"mark":{"type":"line","stroke":"transparent","interpolate":"cardinal-closed","tension":0.5},"encoding":{"order":{"field":"i"},"detail":{"field":"poly"},"fill":{"field":"rl","type":"quantitative","legend":null,"scale":{"domain":[-10,-8,-6,-4,-2,0],"range":["#e81008","#e00000","#c80000","#a00000","#800000","#4e0000"]}}}},
{"data":{"name":"c_band"},"transform":[{"window":[{"op":"row_number","as":"i"}]}],"mark":{"type":"line","stroke":"#ff2000","strokeWidth":6,"interpolate":"monotone"},"encoding":{"order":{"field":"i"}}},
{"data":{"name":"c_band"},"transform":[{"window":[{"op":"row_number","as":"i"}]}],"mark":{"type":"line","stroke":"#ffe820","strokeWidth":2.5,"interpolate":"monotone"},"encoding":{"order":{"field":"i"}}},
{"data":{"values":[{"u":566,"u2":585,"v":593,"v2":883}]},"mark":{"type":"rect","fill":{"gradient":"linear","x1":0,"y1":0,"x2":0,"y2":1,"stops":[{"offset":0,"color":"#4a0000"},{"offset":0.07,"color":"#a00000"},{"offset":0.13,"color":"#f01010"},{"offset":0.24,"color":"#f06010"},{"offset":0.3,"color":"#f0a000"},{"offset":0.36,"color":"#f0e010"},{"offset":0.43,"color":"#d0f010"},{"offset":0.5,"color":"#90f040"},{"offset":0.57,"color":"#70f0a0"},{"offset":0.64,"color":"#70f0d0"},{"offset":0.69,"color":"#6098a8"},{"offset":0.76,"color":"#4070e0"},{"offset":0.9,"color":"#2848d8"},{"offset":1,"color":"#102080"}]}},"encoding":{"x2":{"field":"u2"},"y2":{"field":"v2"}}},
{"data":{"values":[{"t":"0","u":92,"v":593},{"t":"-10","u":92,"v":635},{"t":"-20","u":92,"v":677},{"t":"-30","u":92,"v":720},{"t":"-40","u":92,"v":762},{"t":"-50","u":92,"v":803},{"t":"-60","u":92,"v":845},{"t":"-70","u":92,"v":883}]},"mark":{"type":"text","align":"right","baseline":"middle","fontSize":32,"color":"black"},"encoding":{"text":{"field":"t"}}},
{"data":{"values":[{"t":"0","u":587,"v":597},{"t":"-20","u":587,"v":683},{"t":"-40","u":587,"v":769},{"t":"-60","u":587,"v":855}]},"mark":{"type":"text","align":"left","baseline":"middle","fontSize":32,"color":"black"},"encoding":{"text":{"field":"t"}}},
{"data":{"values":[{"t":"0","u":83,"v":915},{"t":"2","u":127,"v":922},{"t":"4","u":172,"v":932},{"t":"6","u":217,"v":942},{"t":"8","u":260,"v":952},{"t":"10","u":297,"v":960},{"t":"18","u":352,"v":960},{"t":"14","u":402,"v":945},{"t":"10","u":452,"v":932},{"t":"6","u":492,"v":918},{"t":"2","u":540,"v":905}]},"mark":{"type":"text","align":"center","baseline":"middle","fontSize":33,"color":"black"},"encoding":{"text":{"field":"t"}}},
{"data":{"values":[{"t":"RL (dB)","u":20,"v":766}]},"mark":{"type":"text","align":"center","baseline":"middle","fontSize":31,"angle":270,"color":"black"},"encoding":{"text":{"field":"t"}}},
{"data":{"values":[{"t":"Thickness (mm)","u":184,"v":970}]},"mark":{"type":"text","align":"center","baseline":"middle","fontSize":28,"angle":14,"color":"black"},"encoding":{"text":{"field":"t"}}},
{"data":{"values":[{"t":"Frequency (GHz)","u":470,"v":963}]},"mark":{"type":"text","align":"center","baseline":"middle","fontSize":28,"angle":343,"color":"black"},"encoding":{"text":{"field":"t"}}}
]},
{"encoding":{"x":{"field":"f","type":"quantitative","title":"Frequency (GHz)","scale":{"domain":[2,18],"range":[730,1290],"nice":false,"zero":false},"axis":{"orient":"bottom","zindex":2,"offset":-583,"values":[2,3,4,5,6,7,8,9,10,11,12,13,14,15,16,17,18],"labelExpr":"datum.value%2==0?datum.label:''","labelPadding":6,"titlePadding":4}},"y":{"field":"rl","type":"quantitative","title":"RL (dB)","scale":{"domain":[0,-30],"range":[19,424],"nice":false,"zero":false},"axis":{"orient":"left","zindex":2,"offset":-730,"values":[0,-5,-10,-15,-20,-25,-30],"labelExpr":"datum.value%10==0?''+datum.value:''","titlePadding":12}}},
"layer":[
{"data":{"values":[{"f":13.54,"rl":-11.19,"f2":18.46,"rl2":-23.93}]},"mark":{"type":"rule","stroke":"#ef2f62","strokeWidth":245,"strokeDash":[2,2]},"encoding":{"x2":{"field":"f2"},"y2":{"field":"rl2"}}},
{"data":{"name":"maskB"},"transform":[{"window":[{"op":"row_number","as":"i"}]}],"mark":{"type":"line","stroke":"transparent","fill":"white"},"encoding":{"order":{"field":"i"},"detail":{"field":"poly"}}},
{"data":{"values":[{"f":2,"f2":13.8,"rl":-10}]},"mark":{"type":"rule","stroke":"#ff4fe0","strokeWidth":2,"strokeDash":[5,3]},"encoding":{"x2":{"field":"f2"}}},
{"data":{"values":[{"f":13.9,"f2":18,"rl":-10}]},"mark":{"type":"rule","stroke":"#ef2f62","strokeWidth":1.5},"encoding":{"x2":{"field":"f2"}}},
{"data":{"name":"curveB"},"transform":[{"filter":"datum.f>=13.2&&datum.f<=16.6"}],"mark":{"type":"line","stroke":"#fa9cee","strokeWidth":9,"opacity":0.75,"interpolate":"monotone"}},
{"data":{"name":"curveB"},"transform":[{"filter":"datum.f<=13.3"}],"mark":{"type":"line","stroke":"#f22fe0","strokeWidth":12,"interpolate":"monotone"}},
{"data":{"name":"curveB"},"transform":[{"filter":"datum.f>=16.5"}],"mark":{"type":"line","stroke":"#f22fe0","strokeWidth":7,"interpolate":"monotone"}},
{"data":{"name":"curveB"},"transform":[{"filter":"datum.f>=13"}],"mark":{"type":"point","shape":"diamond","filled":false,"size":130,"stroke":"#ff40e6","strokeWidth":1.8,"opacity":1}},
{"data":{"values":[{"f":2,"f2":18,"rl":0,"rl2":-30}]},"mark":{"type":"rect","fill":"transparent","stroke":"black","strokeWidth":4},"encoding":{"x2":{"field":"f2"},"y2":{"field":"rl2"}}},
{"data":{"values":[{"f":2.63,"f2":3.94,"rl":-12.4}]},"mark":{"type":"rule","stroke":"#f22fe0","strokeWidth":6},"encoding":{"x2":{"field":"f2"}}},
{"data":{"values":[{"f":3.28,"rl":-12.4}]},"mark":{"type":"point","shape":"diamond","filled":true,"fill":"white","size":90,"stroke":"#ff40e6","strokeWidth":1.5,"opacity":1}},
{"data":{"values":[{"t":"PC40-12","f":9.77,"rl":-8.4}]},"mark":{"type":"text","align":"center","baseline":"middle","fontSize":23,"color":"#f22fe0"},"encoding":{"text":{"field":"t"}}},
{"data":{"values":[{"t":"1.58 mm","f":4,"rl":-12.4}]},"mark":{"type":"text","align":"left","baseline":"middle","fontSize":23,"color":"#f22fe0"},"encoding":{"text":{"field":"t"}}},
{"data":{"values":[{"t":"AB","f":9.31,"rl":-17.2},{"t":"= 4.28 GHz","f":11.03,"rl":-17.2}]},"mark":{"type":"text","align":"left","baseline":"middle","fontSize":23,"color":"#f8104a"},"encoding":{"text":{"field":"t"}}},
{"data":{"values":[{"t":"max","f":10.2,"rl":-18.2}]},"mark":{"type":"text","align":"left","baseline":"middle","fontSize":12,"color":"#f8104a"},"encoding":{"text":{"field":"t"}}}
]},
{"encoding":{"x":{"field":"f","type":"quantitative","title":"Frequency (GHz)","scale":{"domain":[2,18],"range":[733,1290],"nice":false,"zero":false},"axis":{"orient":"bottom","zindex":2,"offset":-79,"values":[2,3,4,5,6,7,8,9,10,11,12,13,14,15,16,17,18],"labelExpr":"datum.value%2==0?datum.label:''","titleFontSize":32,"titlePadding":4}},"y":{"field":"rl","type":"quantitative","title":"RL (dB)","scale":{"domain":[0,-25],"range":[529,928],"nice":false,"zero":false},"axis":{"orient":"left","zindex":2,"offset":-733,"values":[0,-2.5,-5,-7.5,-10,-12.5,-15,-17.5,-20,-22.5,-25],"labelExpr":"datum.value%5==0?''+datum.value:''","titlePadding":15}}},
"layer":[
{"data":{"values":[{"f":13.47,"rl":-10.53,"f2":18.24,"rl2":-20.93}]},"mark":{"type":"rule","stroke":"#e62a5e","strokeWidth":240,"strokeDash":[2.4,1.6]},"encoding":{"x2":{"field":"f2"},"y2":{"field":"rl2"}}},
{"data":{"name":"maskD"},"transform":[{"window":[{"op":"row_number","as":"i"}]}],"mark":{"type":"line","stroke":"transparent","fill":"white"},"encoding":{"order":{"field":"i"},"detail":{"field":"poly"}}},
{"data":{"values":[{"f":2,"f2":13.6,"rl":-10}]},"mark":{"type":"rule","stroke":"#f2527f","strokeWidth":2,"strokeDash":[5,3]},"encoding":{"x2":{"field":"f2"}}},
{"data":{"values":[{"f":13.7,"f2":18,"rl":-10}]},"mark":{"type":"rule","stroke":"#e62a5e","strokeWidth":1.5},"encoding":{"x2":{"field":"f2"}}},
{"data":{"name":"curveD"},"transform":[{"filter":"datum.f>=13&&datum.f<=16"}],"mark":{"type":"line","stroke":"#c2f59c","strokeWidth":9,"opacity":0.8,"interpolate":"monotone"}},
{"data":{"name":"curveD"},"transform":[{"filter":"datum.f<=13.1"}],"mark":{"type":"line","stroke":"#82ee1e","strokeWidth":11,"interpolate":"monotone"}},
{"data":{"name":"curveD"},"transform":[{"filter":"datum.f>=16"}],"mark":{"type":"line","stroke":"#9cf05a","strokeWidth":7,"interpolate":"monotone"}},
{"data":{"name":"curveD"},"transform":[{"filter":"datum.f>=12.8"}],"mark":{"type":"point","shape":"circle","filled":false,"size":100,"stroke":"#8cf03a","strokeWidth":1.8,"opacity":1}},
{"data":{"values":[{"f":2,"f2":18,"rl":0,"rl2":-25}]},"mark":{"type":"rect","fill":"transparent","stroke":"black","strokeWidth":4},"encoding":{"x2":{"field":"f2"},"y2":{"field":"rl2"}}},
{"data":{"values":[{"f":2.34,"f2":3.78,"rl":-12.3}]},"mark":{"type":"rule","stroke":"#82ee1e","strokeWidth":6},"encoding":{"x2":{"field":"f2"}}},
{"data":{"values":[{"f":3.05,"rl":-12.3}]},"mark":{"type":"point","shape":"circle","filled":true,"fill":"white","size":70,"stroke":"#8cf03a","strokeWidth":1.5,"opacity":1}},
{"data":{"values":[{"t":"PC40-13","f":10.13,"rl":-8.5}]},"mark":{"type":"text","align":"center","baseline":"middle","fontSize":24,"color":"#82ee1e"},"encoding":{"text":{"field":"t"}}},
{"data":{"values":[{"t":"1.76 mm","f":3.81,"rl":-12.3}]},"mark":{"type":"text","align":"left","baseline":"middle","fontSize":24,"color":"#82ee1e"},"encoding":{"text":{"field":"t"}}},
{"data":{"values":[{"t":"AB","f":8.64,"rl":-16.35},{"t":"= 4.52 GHz","f":10.42,"rl":-16.35}]},"mark":{"type":"text","align":"left","baseline":"middle","fontSize":24,"color":"#f8104a"},"encoding":{"text":{"field":"t"}}},
{"data":{"values":[{"t":"max","f":9.62,"rl":-17.1}]},"mark":{"type":"text","align":"left","baseline":"middle","fontSize":12,"color":"#f8104a"},"encoding":{"text":{"field":"t"}}}
]}
]}
